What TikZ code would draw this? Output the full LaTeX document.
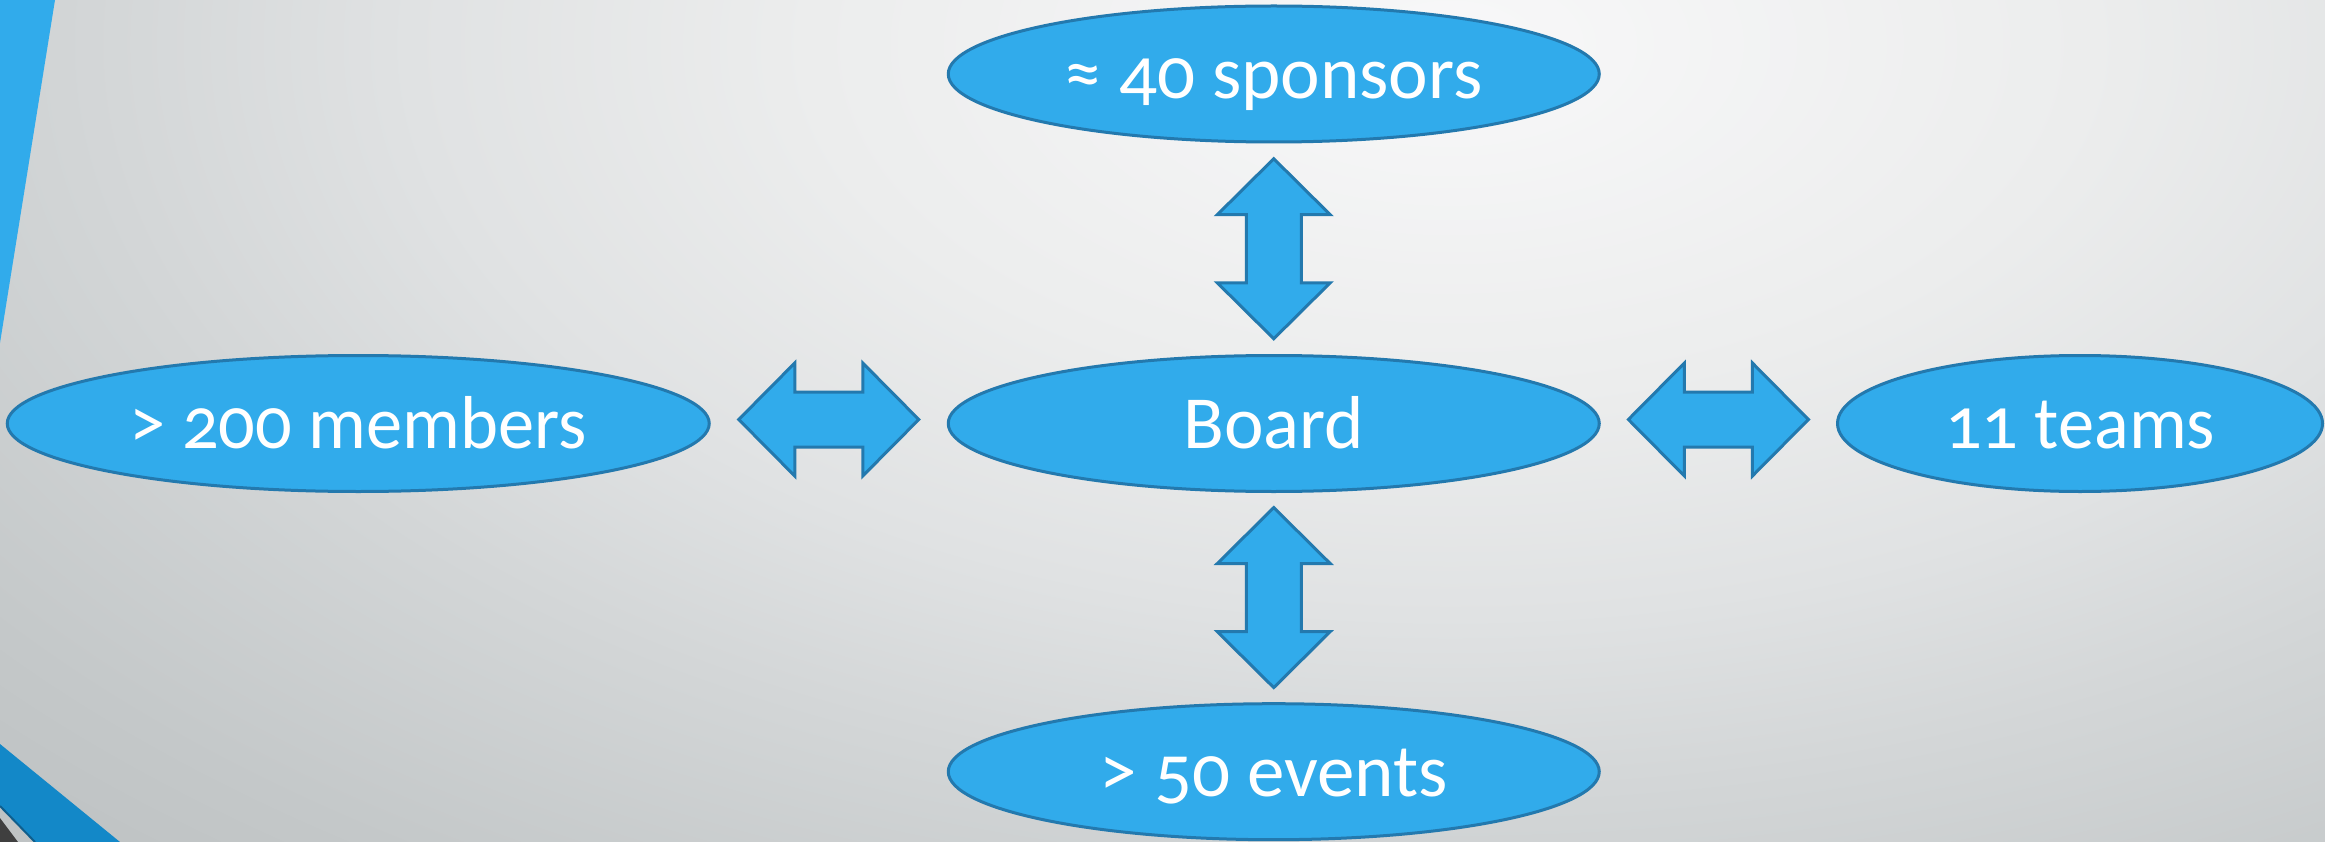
\documentclass[tikz,border=0pt]{standalone}
\usepackage{fontspec}
\setmainfont{Carlito}[Numbers=OldStyle]
\usetikzlibrary{shapes.geometric,calc}
\definecolor{bluef}{HTML}{31ABEB}
\definecolor{bord}{HTML}{2379AE}
\definecolor{band}{HTML}{1388C8}
\definecolor{bandline}{HTML}{0F5E8C}
\definecolor{darkg}{HTML}{3F3F3F}
\definecolor{bga}{HTML}{F8F8F9}
\definecolor{bgb}{HTML}{ECEDED}
\definecolor{bgc}{HTML}{E0E2E3}
\definecolor{bgd}{HTML}{D3D6D7}
\definecolor{bge}{HTML}{C4C8C9}
\definecolor{bgf}{HTML}{BFC3C4}
\pgfdeclareradialshading{bgshade}{\pgfpoint{0bp}{0bp}}{color(0bp)=(bga); color(8bp)=(bgb); color(13bp)=(bgc); color(17bp)=(bgd); color(22.5bp)=(bge); color(25bp)=(bgf); color(50bp)=(bgf)}
\newcommand{\bubfont}{\fontsize{75}{90}\selectfont}
\newcommand{\narrow}[1]{\scalebox{0.965}[1]{#1}}
\tikzset{
  bub/.style={ellipse, draw=bord, fill=bluef, line width=3pt, inner sep=0pt,
    minimum height=136pt, text=white, font=\bubfont, text height=60pt, text depth=11pt},
  arr/.style={draw=bord, fill=bluef, line width=3pt, line join=miter}
}
\begin{document}
\begin{tikzpicture}[x=1pt,y=-1pt]
\useasboundingbox (0,0) rectangle (2325,842);
\begin{scope}
  \clip (0,0) rectangle (2325,842);
  \fill[bgf] (0,0) rectangle (2325,842);
  \begin{scope}[transform canvas={yscale=0.55}]
    \shade[shading=bgshade] (1450,80) circle (2000);
  \end{scope}
  \fill[bluef] (0,0) -- (55,0) -- (0,343) -- cycle;
  \fill[darkg] (0,818) -- (18,842) -- (0,842) -- cycle;
  \fill[band] (0,744) -- (120,842) -- (35,842) -- (0,806) -- cycle;
  \draw[bandline, line width=2pt] (0,806) -- (35,842);
\end{scope}

\node[bub, minimum width=651pt] (board) at (1273.75,423.5) {Board};
\node[bub, minimum width=651pt] (spons) at (1273.75,74) {≈ 40 sponsors};
\node[bub, minimum width=651pt] (events) at (1273.75,771.7) {> 50 events};
\node[bub, minimum width=702pt] (members) at (358.25,423.5) {\narrow{> 200 members}};
\node[bub, minimum width=485pt] (teams) at (2080,423.5) {\narrow{11 teams}};

\coordinate (vt) at ($(spons.south)!0.5!(board.north)$);
\coordinate (vb) at ($(board.south)!0.5!(events.north)$);
\coordinate (hl) at ($($(members.east)!0.5!(board.west)$)+(0,-4)$);
\coordinate (hr) at ($($(board.east)!0.5!(teams.west)$)+(0,-4)$);

\foreach \c in {vt,vb}{
  \draw[arr] (\c) ++(0,-90) -- ++(56.5,56) -- ++(-29,0) -- ++(0,68) -- ++(29,0)
    -- ++(-56.5,56) -- ++(-56.5,-56) -- ++(29,0) -- ++(0,-68) -- ++(-29,0) -- cycle;
}
\foreach \c in {hl,hr}{
  \draw[arr] (\c) ++(-90,0) -- ++(56,-56.5) -- ++(0,29) -- ++(68,0) -- ++(0,-29)
    -- ++(56,56.5) -- ++(-56,56.5) -- ++(0,-29) -- ++(-68,0) -- ++(0,29) -- cycle;
}
\end{tikzpicture}
\end{document}
